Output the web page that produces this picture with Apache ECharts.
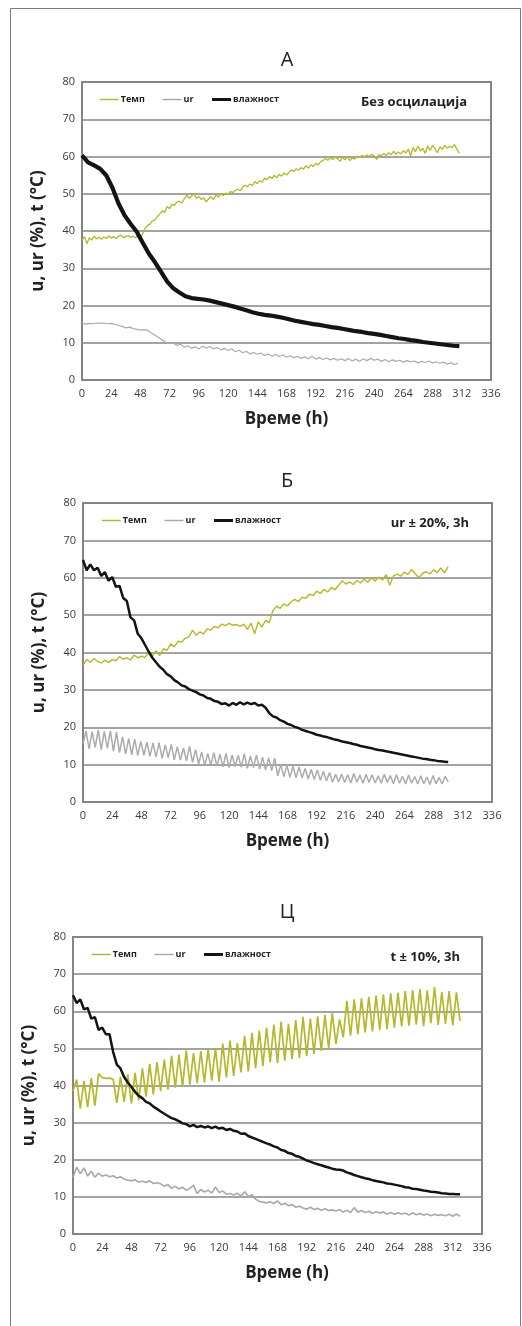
<!DOCTYPE html>
<html>
<head>
<meta charset="utf-8">
<script src="https://cdn.jsdelivr.net/npm/echarts@6/dist/echarts.min.js"></script>
<style>
  html, body { margin: 0; padding: 0; background: #fff; }
  #chart { width: 522px; height: 1326px; }
</style>
</head>
<body>
<div id="chart"></div>
<script>
// Drying runs: temperature, relative humidity and moisture content over time
const xTicks = { min: 0, max: 336, step: 24 };
const yTicks = { min: 0, max: 80, step: 10 };
const seriesNames = ['Темп', 'ur', 'влажност'];
const panelTitles = ['А', 'Б', 'Ц'];
const panelNotes = ['Без осцилација', 'ur ± 20%, 3h', 't ± 10%, 3h'];

// Panel А: no oscillation
const tempA_step = 2;
const tempA = [
  37.5, 38.5, 36.6, 38.2, 37.6, 38.6, 37.9, 38.3, 37.8, 38.4,
  38.0, 38.7, 38.1, 38.5, 38.0, 38.6, 38.9, 38.2, 38.5, 38.8,
  38.3, 38.6, 38.2, 38.9, 37.9, 39.4, 40.8, 41.5, 41.9, 42.8,
  43.0, 43.9, 44.6, 45.4, 45.0, 46.6, 46.0, 47.2, 46.9, 47.8,
  48.0, 47.5, 48.6, 49.6, 48.8, 49.4, 50.0, 48.7, 49.3, 48.5,
  48.9, 47.8, 48.6, 49.2, 48.4, 49.7, 49.1, 50.0, 49.5, 50.2,
  49.8, 50.6, 50.3, 50.9, 51.2, 50.8, 51.8, 52.3, 51.9, 52.6,
  52.2, 53.3, 52.7, 53.5, 53.1, 54.2, 53.8, 54.6, 54.1, 54.9,
  54.3, 55.2, 54.7, 55.6, 55.0, 55.8, 56.4, 56.0, 56.7, 56.3,
  57.0, 56.6, 57.5, 56.9, 57.8, 57.3, 58.2, 57.7, 58.6, 58.9,
  59.5, 59.0, 59.7, 59.2, 59.9, 59.4, 58.7, 59.8, 59.1, 60.0,
  58.9, 59.6, 59.3, 60.1, 59.7, 60.3, 59.8, 60.4, 60.0, 60.6,
  60.1, 59.2, 60.5, 60.2, 60.8, 60.3, 61.0, 60.5, 61.4, 60.6,
  61.2, 60.7, 61.6, 60.9, 62.0, 60.2, 62.4, 61.3, 62.8, 61.5,
  62.2, 60.8, 62.9, 61.6, 63.0, 62.1, 61.0, 62.6, 61.9, 63.0,
  62.2, 62.7, 62.4, 63.2, 62.0, 60.8
];
const urA_step = 3;
const urA = [
  15.3, 15.0, 15.2, 15.1, 15.3, 15.2, 15.3, 15.1, 15.2, 14.9,
  14.7, 14.4, 14.0, 14.2, 13.8, 13.6, 13.4, 13.5, 13.3, 12.6,
  12.0, 11.4, 10.7, 10.1, 9.8, 9.9, 9.3, 9.6, 8.8, 9.2,
  8.5, 8.9, 8.3, 9.1, 8.6, 9.0, 8.4, 8.7, 8.1, 8.5,
  7.9, 8.4, 7.6, 8.0, 7.3, 7.7, 7.0, 7.4, 6.9, 7.2,
  6.6, 7.0, 6.4, 6.9, 6.3, 6.7, 6.1, 6.5, 6.0, 6.3,
  5.8, 6.2, 5.7, 6.4, 5.6, 6.0, 5.5, 5.9, 5.4, 5.8,
  5.3, 5.7, 5.2, 5.8, 5.1, 5.6, 5.0, 5.7, 5.2, 5.8,
  5.3, 5.6, 5.0, 5.5, 4.9, 5.4, 5.0, 5.3, 4.8, 5.2,
  4.9, 5.1, 4.6, 5.0, 4.7, 5.1, 4.6, 4.9, 4.5, 4.8,
  4.3, 4.6, 4.2, 4.5
];
const moistA_step = 5;
const moistA = [
  60.3, 58.4, 57.6, 56.7, 54.9, 51.6, 47.4, 44.2, 41.9, 39.8,
  36.8, 33.9, 31.6, 29.0, 26.4, 24.6, 23.5, 22.5, 22.0, 21.8,
  21.6, 21.3, 20.9, 20.5, 20.1, 19.7, 19.2, 18.7, 18.2, 17.8,
  17.5, 17.3, 17.0, 16.7, 16.3, 15.9, 15.6, 15.3, 15.0, 14.8,
  14.5, 14.2, 14.0, 13.7, 13.4, 13.1, 12.9, 12.6, 12.4, 12.1,
  11.8, 11.5, 11.2, 11.0, 10.7, 10.5, 10.2, 10.0, 9.8, 9.6,
  9.4, 9.2, 9.1
];

// Panel Б: relative humidity oscillating ±20 %
const tempB_step = 3;
const tempB = [
  36.5, 38.2, 37.4, 38.4, 37.6, 37.2, 38.0, 37.3, 38.1, 37.8,
  38.9, 38.2, 38.6, 38.0, 39.3, 38.6, 39.0, 38.7, 40.1, 39.0,
  40.5, 39.2, 41.0, 40.6, 42.3, 41.5, 43.0, 42.8, 43.8, 44.2,
  46.0, 44.6, 45.5, 45.0, 46.3, 46.0, 47.0, 46.6, 47.6, 47.2,
  47.8, 47.3, 47.5, 47.0, 47.6, 46.2, 47.8, 45.0, 48.2, 46.8,
  48.6, 48.0, 51.2, 52.4, 51.8, 53.0, 52.5, 53.5, 54.2, 53.6,
  54.8, 54.5, 55.6, 55.2, 56.4, 55.8, 56.9, 56.2, 57.4, 56.8,
  58.0, 59.2, 58.3, 58.9, 58.2, 59.3, 58.6, 59.6, 58.8, 60.0,
  59.1, 60.2, 59.4, 60.8, 58.0, 60.5, 61.0, 60.4, 61.5, 60.9,
  62.2, 61.0, 60.0, 61.2, 61.6, 61.0, 62.1, 61.4, 62.6, 61.3,
  63.0
];
const urB_step = 2.5;
const urB = [
  15.5, 19.0, 14.2, 18.8, 14.6, 19.2, 14.0, 18.9, 14.4, 19.0,
  13.6, 18.7, 13.2, 17.4, 12.8, 17.0, 12.6, 16.8, 12.4, 16.2,
  12.5, 16.0, 12.2, 15.8, 12.0, 15.9, 11.7, 15.3, 11.9, 15.4,
  11.3, 14.8, 11.2, 14.5, 11.0, 14.9, 10.6, 14.0, 10.2, 13.4,
  9.8, 13.0, 9.9, 13.2, 9.6, 12.8, 9.4, 13.0, 9.2, 12.6,
  9.5, 12.5, 9.3, 12.9, 9.0, 12.3, 9.2, 12.6, 8.8, 12.0,
  8.6, 11.8, 8.4, 11.7, 7.0, 10.0, 6.8, 9.8, 6.6, 9.6,
  6.5, 9.4, 6.4, 9.0, 6.2, 8.7, 6.0, 8.6, 5.8, 8.2,
  5.6, 7.9, 5.3, 7.4, 5.4, 7.5, 5.2, 7.3, 5.1, 7.6,
  5.3, 7.2, 5.0, 7.4, 5.2, 7.3, 5.1, 7.0, 5.0, 7.4,
  5.2, 7.1, 4.9, 7.3, 5.0, 6.9, 4.8, 7.2, 5.0, 6.8,
  4.8, 7.0, 4.9, 6.7, 4.7, 7.1, 4.9, 6.6, 4.8, 6.9,
  5.4
];
const moistB_step = 3;
const moistB = [
  64.8, 62.0, 63.6, 62.0, 62.7, 60.5, 61.5, 59.2, 60.2, 57.6,
  57.8, 54.6, 53.8, 49.4, 48.6, 45.0, 43.8, 42.0, 40.2, 38.6,
  37.4, 36.2, 35.4, 34.2, 33.6, 32.6, 32.0, 31.2, 30.9, 30.2,
  29.8, 29.4, 28.8, 28.5, 27.8, 27.6, 27.0, 26.8, 26.2, 26.4,
  25.8, 26.5, 26.0, 26.7, 26.1, 26.6, 26.2, 26.5, 25.8, 26.0,
  25.2, 23.8, 22.9, 22.6, 21.9, 21.5, 20.9, 20.6, 20.1, 19.8,
  19.3, 19.0, 18.7, 18.4, 18.0, 17.8, 17.5, 17.3, 17.0, 16.7,
  16.5, 16.2, 16.0, 15.8, 15.5, 15.3, 15.0, 14.8, 14.6, 14.4,
  14.1, 13.9, 13.8, 13.6, 13.4, 13.2, 13.0, 12.8, 12.6, 12.4,
  12.2, 12.0, 11.8, 11.6, 11.5, 11.3, 11.2, 11.0, 10.9, 10.8,
  10.7
];

// Panel Ц: temperature oscillating ±10 %
const tempC_step = 3;
const tempC = [
  38.5, 41.6, 33.8, 41.2, 34.2, 42.0, 34.6, 43.2, 42.1, 41.9,
  42.0, 41.7, 35.3, 42.3, 35.6, 43.0, 35.2, 43.4, 36.0, 44.6,
  37.0, 45.8, 37.6, 46.3, 38.5, 47.0, 38.9, 48.0, 39.4, 48.3,
  39.6, 49.5, 40.2, 48.7, 40.6, 49.3, 40.8, 49.8, 41.3, 50.0,
  41.0, 51.3, 42.2, 52.1, 42.6, 51.4, 43.5, 53.4, 43.8, 54.2,
  44.7, 54.8, 45.3, 55.6, 46.2, 56.4, 46.0, 57.2, 46.7, 56.6,
  47.1, 57.6, 47.4, 58.5, 47.9, 58.0, 48.5, 58.6, 49.3, 59.0,
  50.1, 59.5, 51.2, 57.8, 53.0, 62.8, 53.4, 63.2, 53.8, 63.5,
  54.3, 63.9, 54.6, 64.2, 55.0, 64.5, 55.2, 64.8, 55.6, 65.0,
  55.9, 65.4, 56.1, 65.7, 56.4, 66.0, 56.0, 65.6, 56.8, 66.5,
  56.3, 65.2, 56.6, 65.4, 56.2, 65.1, 57.4
];
const urC_step = 3;
const urC = [
  15.2, 18.0, 16.2, 17.8, 15.6, 16.9, 15.3, 16.4, 15.6, 15.9,
  15.4, 15.7, 15.1, 15.4, 14.8, 14.5, 14.3, 14.6, 14.0, 14.2,
  13.9, 14.3, 13.6, 13.8, 13.5, 12.9, 13.3, 12.3, 12.9, 12.1,
  12.6, 11.8, 12.3, 13.1, 10.9, 12.0, 11.3, 11.8, 11.0, 12.7,
  11.2, 11.6, 10.7, 10.9, 10.5, 11.0, 10.2, 11.4, 10.1, 10.6,
  9.4, 8.8, 8.6, 8.4, 8.7, 8.2, 8.9, 7.9, 8.3, 7.6,
  7.9, 7.2, 7.5, 7.0, 6.7, 7.2, 6.6, 6.9, 6.4, 6.8,
  6.3, 6.5, 6.2, 6.6, 5.9, 6.4, 5.8, 7.1, 5.9, 6.3,
  5.8, 6.1, 5.6, 6.0, 5.7, 5.9, 5.4, 5.8, 5.3, 5.7,
  5.4, 5.6, 5.1, 5.7, 5.2, 5.5, 5.1, 5.4, 4.9, 5.3,
  5.0, 5.2, 4.9, 5.3, 4.8, 5.4, 4.8
];
const moistC_step = 3;
const moistC = [
  64.3, 62.2, 63.2, 60.5, 60.9, 58.0, 58.4, 55.0, 55.6, 53.8,
  53.8, 49.0, 45.6, 44.6, 42.3, 40.8, 39.6, 38.3, 37.2, 36.6,
  35.6, 35.2, 34.3, 33.7, 33.0, 32.4, 31.8, 31.2, 30.9, 30.4,
  29.8, 29.6, 29.0, 29.4, 28.8, 29.1, 28.7, 29.0, 28.5, 28.9,
  28.4, 28.6, 28.0, 28.3, 27.8, 27.6, 27.0, 27.1, 26.4, 26.0,
  25.6, 25.2, 24.8, 24.4, 24.1, 23.6, 23.3, 22.6, 22.4, 21.8,
  21.6, 21.0, 20.8, 20.3, 19.8, 19.5, 19.1, 18.8, 18.5, 18.2,
  17.9, 17.6, 17.4, 17.3, 17.1, 16.6, 16.3, 15.9, 15.6, 15.3,
  15.0, 14.8, 14.5, 14.3, 14.1, 13.9, 13.6, 13.5, 13.3, 13.1,
  12.9, 12.6, 12.5, 12.2, 12.1, 11.9, 11.7, 11.6, 11.4, 11.3,
  11.2, 11.0, 10.9, 10.8, 10.8, 10.7, 10.7
];

// ---- chart construction ----
const FONT = '"Open Sans", "Noto Sans", "DejaVu Sans", sans-serif';
const COLORS = { temp: '#b4b82a', ur: '#ababab', moist: '#141414' };
const legendWidths = [1.5, 1.5, 3];

function timed(values, step) {
  return values.map((v, i) => [i * step, v]);
}

const panels = [
  { grid: { left: 82, top: 82, width: 409, height: 298 }, titleY: 60, noteRight: 467, legendLeft: 99, nameShift: 0,
    temp: timed(tempA, tempA_step), ur: timed(urA, urA_step), moist: timed(moistA, moistA_step),
    widths: { temp: 1.3, ur: 1.2, moist: 4.2 } },
  { grid: { left: 83, top: 503, width: 409, height: 299 }, titleY: 481, noteRight: 469, legendLeft: 101, nameShift: 0,
    temp: timed(tempB, tempB_step), ur: timed(urB, urB_step), moist: timed(moistB, moistB_step),
    widths: { temp: 1.4, ur: 1.5, moist: 2.5 } },
  { grid: { left: 73, top: 937, width: 409, height: 297 }, titleY: 912, noteRight: 460, legendLeft: 91, nameShift: 19,
    temp: timed(tempC, tempC_step), ur: timed(urC, urC_step), moist: timed(moistC, moistC_step),
    widths: { temp: 1.7, ur: 1.7, moist: 2.5 } }
];

const option = {
  animation: false,
  backgroundColor: '#fff',
  textStyle: { fontFamily: FONT },
  grid: [], xAxis: [], yAxis: [], series: [], legend: [], graphic: []
};

panels.forEach((p, i) => {
  option.grid.push(Object.assign({
    show: true, borderColor: '#858585', borderWidth: 2, backgroundColor: '#fff', containLabel: false
  }, p.grid));

  option.xAxis.push({
    type: 'value', gridIndex: i, min: xTicks.min, max: xTicks.max, interval: xTicks.step,
    axisLine: { show: false }, axisTick: { show: false }, splitLine: { show: false },
    axisLabel: { fontSize: 11, color: '#3a3a3a', margin: 8, fontFamily: FONT },
    name: 'Време (h)', nameLocation: 'middle', nameGap: 31,
    nameTextStyle: { fontSize: 17, fontWeight: 'bold', color: '#222', fontFamily: FONT,
      padding: [0, 0, 0, p.nameShift] }
  });

  option.yAxis.push({
    type: 'value', gridIndex: i, min: yTicks.min, max: yTicks.max, interval: yTicks.step,
    axisLine: { show: false }, axisTick: { show: false },
    splitLine: { show: true, lineStyle: { color: '#858585', width: 1.6 } },
    axisLabel: { fontSize: 11, color: '#3a3a3a', margin: 7, fontFamily: FONT },
    name: 'u, ur (%), t (°C)', nameLocation: 'middle', nameGap: 35, nameRotate: 90,
    nameTextStyle: { fontSize: 17, fontWeight: 'bold', color: '#222', fontFamily: FONT }
  });

  const mk = (name, data, color, width) => ({
    name, type: 'line', data, xAxisIndex: i, yAxisIndex: i,
    symbol: 'none', showSymbol: false, smooth: false,
    lineStyle: { color, width }, itemStyle: { color }
  });
  option.series.push(mk(seriesNames[0], p.temp, COLORS.temp, p.widths.temp));
  option.series.push(mk(seriesNames[1], p.ur, COLORS.ur, p.widths.ur));
  option.series.push(mk(seriesNames[2], p.moist, COLORS.moist, p.widths.moist));

  option.legend.push({
    data: seriesNames.map((n, k) => ({ name: n, lineStyle: { width: legendWidths[k] } })),
    left: p.legendLeft, top: p.grid.top + 13, orient: 'horizontal', padding: 0,
    itemWidth: 19, itemHeight: 8, itemGap: 17, selectedMode: false,
    itemStyle: { opacity: 0, borderWidth: 0 },
    textStyle: { fontSize: 9, fontWeight: 'bold', color: '#222', fontFamily: FONT, padding: [0, 0, 0, -3] }
  });

  option.graphic.push({
    type: 'text', x: 287, y: p.titleY,
    style: { text: panelTitles[i], font: '20px ' + FONT, fill: '#222', align: 'center', verticalAlign: 'middle' }
  });
  option.graphic.push({
    type: 'text', x: p.noteRight, y: p.grid.top + 20,
    style: { text: panelNotes[i], font: 'bold 13px ' + FONT, fill: '#222', align: 'right', verticalAlign: 'middle' }
  });
});

// outer frame of the figure
option.graphic.push({
  type: 'rect', silent: true,
  shape: { x: 10.5, y: 8.5, width: 510, height: 1330 },
  style: { fill: 'none', stroke: '#7a7a7a', lineWidth: 1 }
});

const chart = echarts.init(document.getElementById('chart'), null, { renderer: 'canvas' });
chart.setOption(option);
</script>
</body>
</html>
